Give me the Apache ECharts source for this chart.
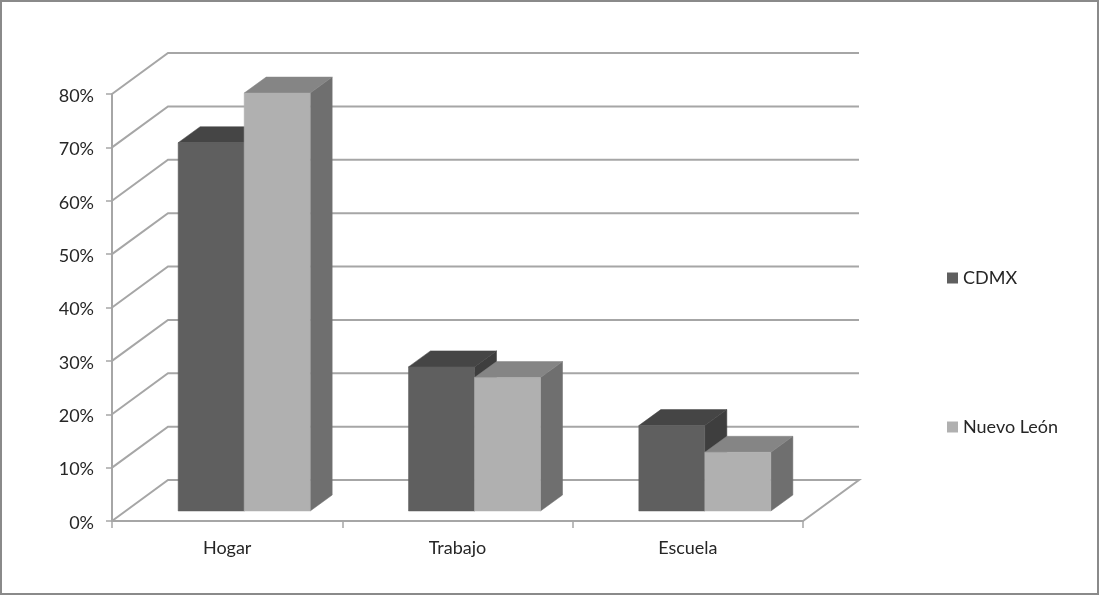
<!DOCTYPE html>
<html>
<head>
<meta charset="utf-8">
<style>html,body{margin:0;padding:0;background:#fff}#c{width:1099px;height:595px}</style>
<script src="https://cdn.jsdelivr.net/npm/echarts@6/dist/echarts.min.js"></script>
</head>
<body>
<div id="c"></div>
<script>
var categories = ['Hogar', 'Trabajo', 'Escuela'];
var cdmx = [69, 27, 16];
var nuevoLeon = [78.3, 25, 11];
var ticks = [0, 10, 20, 30, 40, 50, 60, 70, 80];

var GRID_COLOR = '#a6a6a6';
var WALL_DX = 56, WALL_DY = -41;      // depth of the 3D box
var BAR_DX = 17, BAR_DY = -10;        // bars stand this far into the floor
var DEPTH_DX = 22, DEPTH_DY = -16;    // depth of a bar

function poly(points, fill) {
  return { type: 'polygon', shape: { points: points }, style: { fill: fill, stroke: fill, lineWidth: 0.5 } };
}

function barSeries(name, values, order, front, top, side) {
  return {
    name: name,
    type: 'custom',
    z: 3 + order,
    itemStyle: { color: front },
    encode: { x: 0, y: 1 },
    data: values.map(function (v, i) { return [i, v]; }),
    renderItem: function (params, api) {
      var band = api.size([1, 0])[0];
      var w = band * 0.2866;
      var c = api.coord([api.value(0), api.value(1)]);
      var b = api.coord([api.value(0), 0]);
      var x0 = c[0] - w + order * w + BAR_DX;
      var x1 = x0 + w;
      var yT = c[1] + BAR_DY, yB = b[1] + BAR_DY;
      return { type: 'group', children: [
        poly([[x1, yT], [x1 + DEPTH_DX, yT + DEPTH_DY], [x1 + DEPTH_DX, yB + DEPTH_DY], [x1, yB]], side),
        poly([[x0, yT], [x0 + DEPTH_DX, yT + DEPTH_DY], [x1 + DEPTH_DX, yT + DEPTH_DY], [x1, yT]], top),
        poly([[x0, yT], [x1, yT], [x1, yB], [x0, yB]], front)
      ] };
    }
  };
}

var wallSeries = {
  name: 'wall',
  type: 'custom',
  z: 1,
  silent: true,
  encode: { x: 0, y: 1 },
  data: ticks.map(function (t) { return [0, t]; }),
  renderItem: function (params, api) {
    var cs = params.coordSys;
    var y = api.coord([0, api.value(1)])[1];
    var pts = [[cs.x, y], [cs.x + WALL_DX, y + WALL_DY], [cs.x + cs.width + WALL_DX, y + WALL_DY]];
    if (api.value(1) === 0) {
      pts.push([cs.x + cs.width, y]);
    }
    return { type: 'polyline', shape: { points: pts }, style: { fill: 'none', stroke: GRID_COLOR, lineWidth: 2 } };
  }
};

var chart = echarts.init(document.getElementById('c'), null, { renderer: 'canvas' });
chart.setOption({
  animation: false,
  backgroundColor: '#ffffff',
  textStyle: { fontFamily: 'Lato' },
  graphic: [{
    type: 'rect', z: 0, silent: true,
    shape: { x: 1, y: 1, width: 1097, height: 593 },
    style: { fill: 'none', stroke: '#8a8a8a', lineWidth: 2 }
  }],
  grid: { left: 112, top: 94, width: 691, height: 427, containLabel: false },
  legend: {
    orient: 'vertical', left: 942, top: 264,
    icon: 'rect', itemWidth: 11, itemHeight: 11, itemGap: 131,
    data: ['CDMX', 'Nuevo León'],
    textStyle: { fontFamily: 'Lato', fontSize: 18, color: '#262626' }
  },
  xAxis: {
    type: 'category', data: categories,
    axisLine: { lineStyle: { color: GRID_COLOR, width: 2 } },
    axisTick: { show: true, length: 7, lineStyle: { color: GRID_COLOR, width: 1.5 } },
    axisLabel: { fontFamily: 'Lato', fontSize: 18, color: '#262626', margin: 18 }
  },
  yAxis: {
    type: 'value', min: 0, max: 80, interval: 10,
    splitLine: { show: false },
    axisLine: { show: true, lineStyle: { color: GRID_COLOR, width: 2 } },
    axisTick: { show: true, length: 6, lineStyle: { color: GRID_COLOR, width: 1.5 } },
    axisLabel: {
      margin: 18,
      formatter: '{a|{value}%}',
      rich: { a: { fontFamily: 'Lato', fontSize: 18, color: '#262626', padding: [4, 0, 0, 0] } }
    }
  },
  series: [
    wallSeries,
    barSeries('CDMX', cdmx, 0, '#5f5f5f', '#454545', '#3e3e3e'),
    barSeries('Nuevo León', nuevoLeon, 1, '#b0b0b0', '#858585', '#6f6f6f')
  ]
});
</script>
</body>
</html>
